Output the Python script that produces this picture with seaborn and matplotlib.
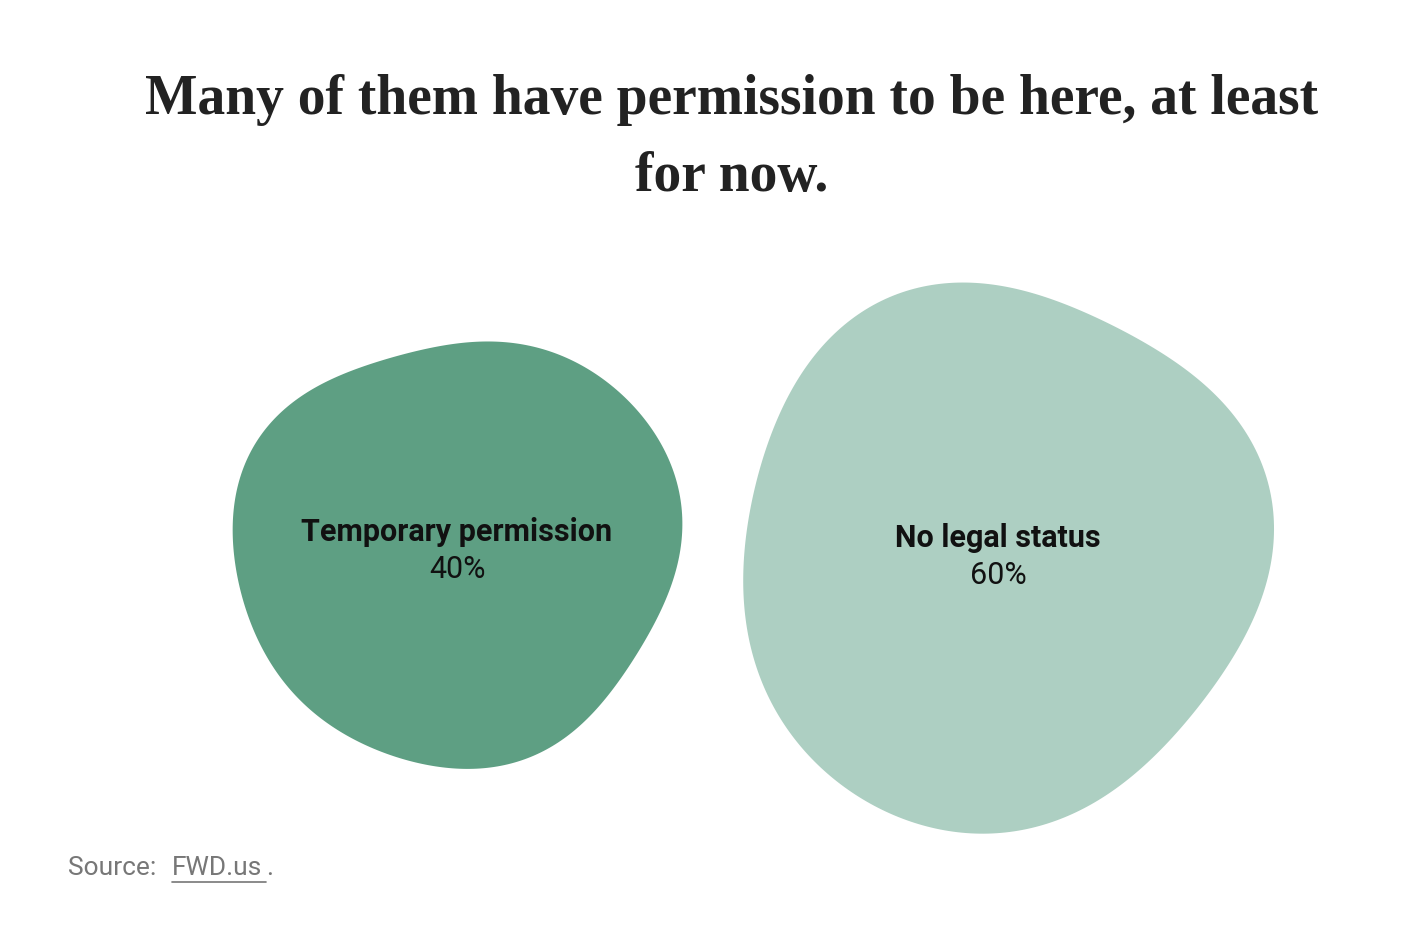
import numpy as np
import matplotlib.pyplot as plt
import seaborn as sns

categories = ["Temporary permission", "No legal status"]
shares = [40, 60]
colors = ["#5e9f83", "#adcfc2"]

sns.set_theme(style="white")
fig = plt.figure(figsize=(14.2, 9.49), dpi=100)
ax = fig.add_axes([0, 0, 1, 1])
ax.set_xlim(0, 1420)
ax.set_ylim(949, 0)
ax.axis("off")

# blob wobble (style only): harmonic amplitudes/phases per blob
wobble = [
    [(2, 0.03, 0.6), (3, 0.035, 1.9), (5, 0.012, 0.4)],
    [(2, 0.025, 2.4), (3, 0.04, 0.3), (4, 0.02, 1.2)],
]
centers = [(457, 550), (998, 556)]
base = 218 / np.sqrt(shares[0])

theta = np.linspace(0, 2 * np.pi, 400)
for cat, val, col, (cx, cy), wob in zip(categories, shares, colors, centers, wobble):
    r = base * np.sqrt(val) * np.ones_like(theta)
    for k, a, p in wob:
        r = r * (1 + a * np.cos(k * theta + p))
    ax.fill(cx + r * np.cos(theta), cy + r * np.sin(theta), color=col, lw=0)
    ax.text(cx, cy - 18, cat, ha="center", va="center", fontsize=22,
            fontweight="bold", family="Roboto", color="#111111")
    ax.text(cx, cy + 20, f"{val}%", ha="center", va="center", fontsize=22,
            family="Roboto", color="#111111")

ax.text(732, 100, "Many of them have permission to be here, at least",
        ha="center", va="center", fontsize=40, fontweight="bold",
        family="Liberation Serif", color="#222222")
ax.text(732, 177, "for now.", ha="center", va="center", fontsize=40,
        fontweight="bold", family="Liberation Serif", color="#222222")

ax.text(68, 868, "Source: ", ha="left", va="center", fontsize=19,
        family="Roboto", color="#777777")
ax.text(172, 868, "FWD.us", ha="left", va="center", fontsize=19,
        family="Roboto", color="#777777")
ax.plot([172, 266], [882, 882], color="#777777", lw=1.2)
ax.text(266, 868, ".", ha="left", va="center", fontsize=19,
        family="Roboto", color="#777777")

fig.savefig("out.png", dpi=100)
